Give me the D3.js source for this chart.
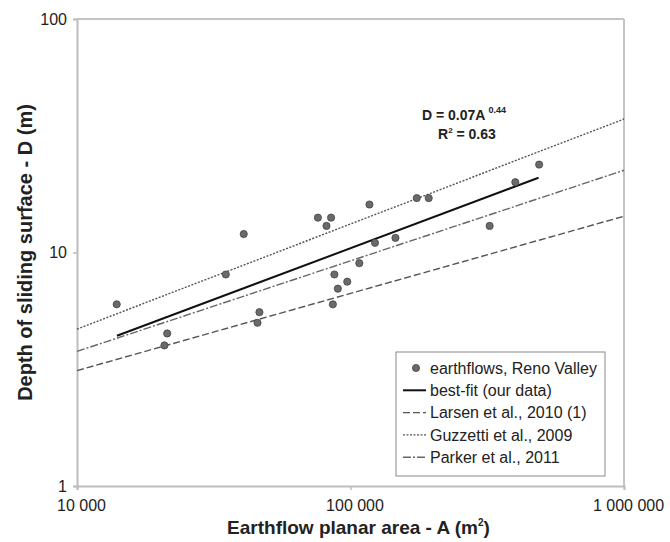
<!DOCTYPE html>
<html>
<head>
<meta charset="utf-8">
<script src="https://cdn.jsdelivr.net/npm/d3@7"></script>
<style>
body { margin: 0; background: #fff; }
text { font-family: Arial, "Liberation Sans", sans-serif; fill: #222; }
</style>
</head>
<body>
<script>
let width = 670, height = 542
let margin = {top: 19, right: 46, bottom: 56, left: 77}
let w = width - margin.left - margin.right
let h = height - margin.top - margin.bottom

// earthflows, Reno Valley: planar area (m2) and depth of sliding surface (m)
let area = [13970, 21370, 20870, 35000, 40700, 46450, 45700, 76000, 84900, 81700, 117300, 174700,
            193200, 122900, 146000, 107700, 87300, 97300, 89900, 86200, 322700, 400500, 489500]
let depth = [6.0, 4.5, 4.0, 8.05, 12.0, 5.55, 5.0, 14.1, 14.1, 13.0, 16.05, 17.1,
             17.1, 11.0, 11.55, 9.0, 8.05, 7.5, 7.0, 6.0, 13.0, 20.0, 23.8]

// end points of the relations as drawn
let bestFit = [[14000, 4.4], [487000, 20.9]]
let larsen = [[10000, 3.12], [1000000, 14.3]]
let guzzetti = [[10000, 4.7], [1000000, 37.3]]
let parker = [[10000, 3.77], [1000000, 22.5]]

let xTicks = [10000, 100000, 1000000]
let xTickLabels = ["10 000", "100 000", "1 000 000"]
let yTicks = [1, 10, 100]
let yTickLabels = ["1", "10", "100"]
let legendLabels = ["earthflows, Reno Valley", "best-fit (our data)", "Larsen et al., 2010 (1)",
                    "Guzzetti et al., 2009", "Parker et al., 2011"]

let lines = [
  {name: "best-fit", data: bestFit, color: "#111", width: 2, dash: null},
  {name: "larsen", data: larsen, color: "#555", width: 1.4, dash: "7,3"},
  {name: "guzzetti", data: guzzetti, color: "#555", width: 1.4, dash: "2,1.5"},
  {name: "parker", data: parker, color: "#666", width: 1.4, dash: "8,2,2,2"}
]

let svg = d3.select("body").append("svg").attr("width", width).attr("height", height)
let g = svg.append("g").attr("transform", "translate(" + margin.left + "," + margin.top + ")")

let x = d3.scaleLog().domain([10000, 1000000]).range([0, w])
let y = d3.scaleLog().domain([1, 100]).range([h, 0])

// frame
g.append("line").attr("x1", 0).attr("x2", w).attr("y1", 0).attr("y2", 0)
  .attr("stroke", "#c4c4c4").attr("stroke-width", 2)
g.append("line").attr("x1", w).attr("x2", w).attr("y1", 0).attr("y2", h)
  .attr("stroke", "#c4c4c4").attr("stroke-width", 2)

let xAxis = g.append("g").attr("transform", "translate(0," + h + ")")
  .call(d3.axisBottom(x).tickValues(xTicks).tickFormat((d, i) => xTickLabels[i]).tickSize(4).tickPadding(10))
let yAxis = g.append("g")
  .call(d3.axisLeft(y).tickValues(yTicks).tickFormat((d, i) => yTickLabels[i]).tickSize(4).tickPadding(6))

;[xAxis, yAxis].forEach(a => {
  a.select(".domain").attr("stroke", "#bdbdbd").attr("stroke-width", 2)
  a.selectAll(".tick line").attr("stroke", "#bdbdbd").attr("stroke-width", 1.5)
  a.selectAll(".tick text").attr("font-size", 16).attr("font-family", "Arial, 'Liberation Sans', sans-serif").attr("fill", "#222")
})
xAxis.selectAll(".tick text").attr("dx", 4)

let line = d3.line().x(d => x(d[0])).y(d => y(d[1]))

g.selectAll("path.rel")
  .data(lines)
  .join("path")
  .attr("class", "rel")
  .attr("d", d => line(d.data))
  .attr("fill", "none")
  .attr("stroke", d => d.color)
  .attr("stroke-width", d => d.width)
  .attr("stroke-dasharray", d => d.dash)

g.selectAll("circle.pt")
  .data(area)
  .join("circle")
  .attr("class", "pt")
  .attr("cx", d => x(d))
  .attr("cy", (d, i) => y(depth[i]))
  .attr("r", 3.6)
  .attr("fill", "#6a6a6a")
  .attr("stroke", "#444")
  .attr("stroke-width", 0.8)

// equation
let eq = g.append("text").attr("x", 345).attr("y", 101).attr("font-size", 14).attr("font-weight", "bold")
eq.append("tspan").text("D = 0.07A")
eq.append("tspan").attr("dx", 3).attr("dy", -7).attr("font-size", 9).text("0.44")
let r2 = g.append("text").attr("x", 361).attr("y", 120).attr("font-size", 14).attr("font-weight", "bold")
r2.append("tspan").text("R")
r2.append("tspan").attr("dy", -6).attr("font-size", 8).text("2")
r2.append("tspan").attr("dy", 6).text(" = 0.63")

// legend
let lg = svg.append("g").attr("transform", "translate(396,352)")
lg.append("rect").attr("width", 209).attr("height", 124).attr("fill", "#fff")
  .attr("stroke", "#8a8a8a").attr("stroke-width", 1)
let rows = lg.selectAll("g.row")
  .data(legendLabels)
  .join("g")
  .attr("class", "row")
  .attr("transform", (d, i) => "translate(0," + (16 + i * 22.3) + ")")
rows.append("text").attr("x", 34).attr("dy", "0.35em").attr("font-size", 16).text(d => d)
rows.filter((d, i) => i == 0).append("circle").attr("cx", 20).attr("r", 3.6)
  .attr("fill", "#6a6a6a").attr("stroke", "#444").attr("stroke-width", 0.8)
rows.filter((d, i) => i > 0).append("line")
  .attr("x1", 7).attr("x2", 30)
  .attr("stroke", (d, i) => lines[i].color)
  .attr("stroke-width", (d, i) => lines[i].width)
  .attr("stroke-dasharray", (d, i) => lines[i].dash)

// axis titles
let xt = svg.append("text").attr("x", margin.left + w / 2 + 8).attr("y", 534)
  .attr("text-anchor", "middle").attr("font-size", 19).attr("font-weight", "bold")
xt.append("tspan").text("Earthflow planar area - A (m")
xt.append("tspan").attr("dy", -8).attr("font-size", 10).text("2")
xt.append("tspan").attr("dy", 8).text(")")

svg.append("text")
  .attr("transform", "translate(32," + (margin.top + h / 2) + ") rotate(-90)")
  .attr("text-anchor", "middle").attr("font-size", 20).attr("font-weight", "bold")
  .text("Depth of sliding surface - D (m)")
</script>
</body>
</html>
